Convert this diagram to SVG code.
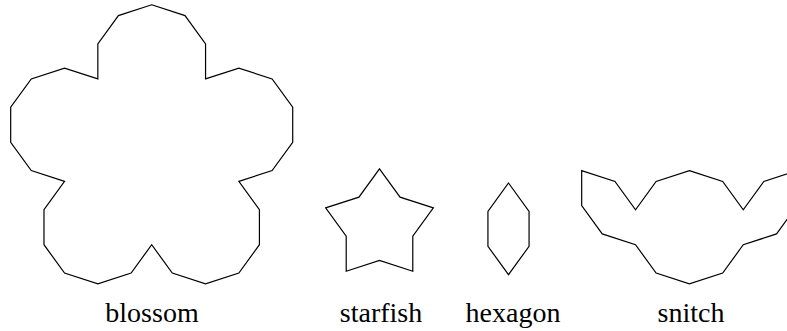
<svg xmlns="http://www.w3.org/2000/svg" width="787" height="331" viewBox="0 0 787 331">
<style>
.shape{fill:none;stroke:#000;stroke-width:1.2;stroke-linejoin:miter}
.lbl{font-size:28px;fill:#000;text-anchor:middle}
</style>
<rect width="787" height="331" fill="#fff"/>
<g id="blossom">
<polygon class="shape" points="151.7,4.8 184.99,15.62 205.56,43.94 205.56,78.94 238.85,68.12 272.14,78.94 292.71,107.26 292.71,142.26 272.14,170.58 238.85,181.4 259.42,209.72 259.42,244.72 238.85,273.04 205.56,283.86 172.27,273.04 151.7,244.72 131.13,273.04 97.84,283.86 64.55,273.04 43.98,244.72 43.98,209.72 64.55,181.4 31.26,170.58 10.69,142.26 10.69,107.26 31.26,78.94 64.55,68.12 97.84,78.94 97.84,43.94 118.41,15.62"/>
<text class="lbl" font-family="'Liberation Serif', serif" x="152" y="322">blossom</text>
</g>
<g id="starfish">
<polygon class="shape" points="379.5,168.8 400.07,197.12 433.36,207.94 412.79,236.26 412.79,271.26 379.5,260.44 346.21,271.26 346.21,236.26 325.64,207.94 358.93,197.12"/>
<text class="lbl" font-family="'Liberation Serif', serif" x="381" y="322">starfish</text>
</g>
<g id="hexagon">
<polygon class="shape" points="508.5,183 529.07,211.32 529.07,246.32 508.5,274.64 487.93,246.32 487.93,211.32"/>
<text class="lbl" font-family="'Liberation Serif', serif" x="513" y="322">hexagon</text>
</g>
<g id="snitch">
<polygon class="shape" points="689.4,170.6 722.69,181.42 743.26,209.74 763.83,181.42 797.12,170.6 797.12,205.6 776.55,233.92 743.26,244.74 722.69,273.06 689.4,283.88 656.11,273.06 635.54,244.74 602.25,233.92 581.68,205.6 581.68,170.6 614.97,181.42 635.54,209.74 656.11,181.42"/>
<text class="lbl" font-family="'Liberation Serif', serif" x="691" y="322">snitch</text>
</g>
<g id="connectors"></g>
</svg>
